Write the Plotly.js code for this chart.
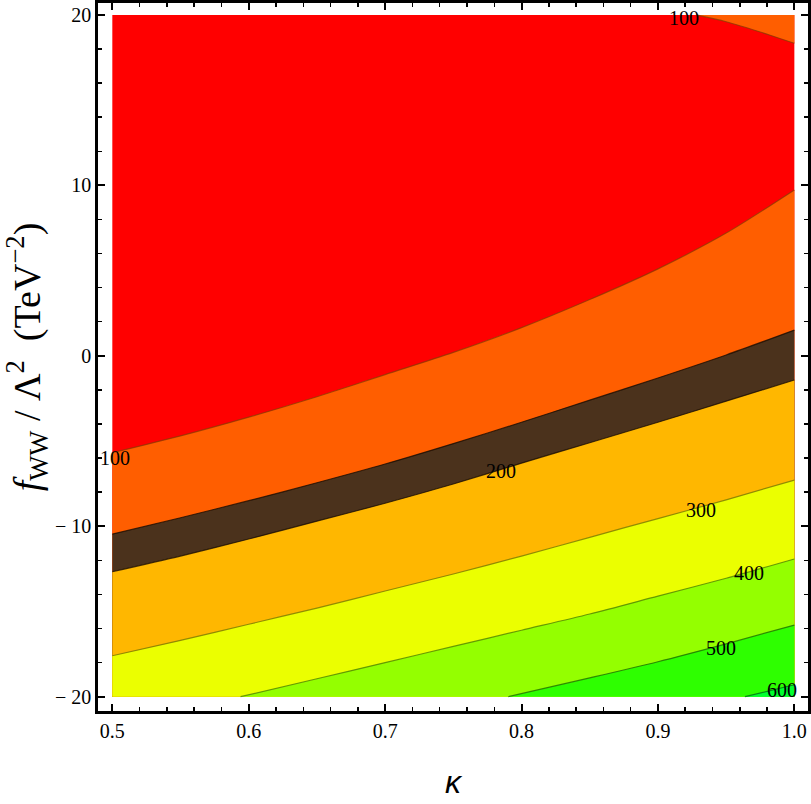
<!DOCTYPE html>
<html>
<head>
<meta charset="utf-8">
<script src="https://cdn.plot.ly/plotly-3.0.1.min.js"></script>
<style>
  html, body { margin: 0; padding: 0; background: #fff; }
  #chart { width: 811px; height: 804px; }
</style>
</head>
<body>
<div id="chart"></div>
<script>
const kappa = [0.5, 0.55, 0.6, 0.65, 0.7, 0.75, 0.8, 0.85, 0.9, 0.95, 1.0];

// contour lines (f_WW/Lambda^2 in TeV^-2 at each kappa)
const line100low = [-5.69, -4.7, -3.6, -2.4, -1.1, 0.2, 1.65, 3.3, 5.1, 7.2, 9.73];
const bandTop = [-10.46, -9.5, -8.5, -7.45, -6.35, -5.15, -3.9, -2.6, -1.3, 0.05, 1.51];
const line200 = [-12.67, -11.75, -10.75, -9.7, -8.65, -7.52, -6.3, -5.1, -3.9, -2.66, -1.42];
const line300 = [-17.6, -16.7, -15.75, -14.8, -13.8, -12.8, -11.75, -10.65, -9.55, -8.45, -7.29];

// lines that start on the top or bottom edge
const line100topX = [0.928, 0.95, 0.975, 1.0];
const line100topY = [20, 19.6, 19.0, 18.34];
const line400X = [0.594, 0.65, 0.7, 0.75, 0.8, 0.85, 0.9, 0.95, 1.0];
const line400Y = [-20, -18.95, -18.0, -17.05, -16.1, -15.15, -14.1, -13.05, -11.92];
const line500X = [0.7903, 0.85, 0.9, 0.95, 1.0];
const line500Y = [-20, -18.9, -17.95, -16.9, -15.8];
const line600X = [0.9638, 1.0];
const line600Y = [-20, -19.3];

// contour labels
const labelText = ['100', '100', '200', '300', '400', '500', '600'];
const labelX = [0.919, 0.502, 0.785, 0.9316, 0.9667, 0.9462, 0.991];
const labelY = [19.82, -6.0, -6.76, -9.05, -12.72, -17.12, -19.58];

const xMin = 0.5, xMax = 1.0, yMin = -20, yMax = 20;

// fill from a contour down to the bottom edge (or up to the top edge)
function band(xs, ys, edge, fillColor, lineColor) {
  const base = {
    x: [xs[0], xs[xs.length - 1]], y: [edge, edge],
    type: 'scatter', mode: 'lines', line: { width: 0 },
    hoverinfo: 'skip', showlegend: false
  };
  const curve = {
    x: xs, y: ys, type: 'scatter', mode: 'lines',
    line: { color: lineColor, width: 1.2, shape: 'spline', smoothing: 0.8 },
    fill: 'tonexty', fillcolor: fillColor,
    hoverinfo: 'skip', showlegend: false
  };
  return [base, curve];
}

const traces = [
  // red background
  {
    x: [xMin, xMax, xMax, xMin], y: [yMin, yMin, yMax, yMax],
    type: 'scatter', mode: 'none', fill: 'toself', fillcolor: '#ff0000',
    hoverinfo: 'skip', showlegend: false
  },
  ...band(line100topX, line100topY, yMax, '#ff5e00', 'rgba(130,60,0,0.7)'),
  ...band(kappa, line100low, yMin, '#ff5e00', 'rgba(130,60,0,0.7)'),
  ...band(kappa, bandTop, yMin, '#4b321c', 'rgba(20,10,0,0.75)'),
  ...band(kappa, line200, yMin, '#ffb700', 'rgba(20,10,0,0.75)'),
  ...band(kappa, line300, yMin, '#ebff00', 'rgba(120,120,0,0.8)'),
  ...band(line400X, line400Y, yMin, '#94ff00', 'rgba(80,130,0,0.8)'),
  ...band(line500X, line500Y, yMin, '#2eff00', 'rgba(30,110,0,0.8)'),
  ...band(line600X, line600Y, yMin, '#00ff30', 'rgba(0,110,20,0.8)')
];

const annotations = labelText.map((t, i) => ({
  x: labelX[i], y: labelY[i], text: t, showarrow: false,
  font: { family: 'Liberation Serif, serif', size: 20, color: '#000' }
}));

const axisCommon = {
  showline: true, linecolor: '#000', linewidth: 2.7, mirror: 'allticks',
  ticks: 'inside', ticklen: 7, tickwidth: 2, tickcolor: '#000',
  showgrid: false, zeroline: false,
  tickfont: { family: 'Liberation Serif, serif', size: 20, color: '#000' }
};

const layout = {
  width: 811, height: 804,
  margin: { l: 98, r: 3, t: 3, b: 93 },
  paper_bgcolor: '#fff', plot_bgcolor: '#fff',
  showlegend: false,
  xaxis: Object.assign({}, axisCommon, {
    range: [0.4895, 1.01],
    tickvals: [0.5, 0.6, 0.7, 0.8, 0.9, 1.0],
    ticktext: ['0.5', '0.6', '0.7', '0.8', '0.9', '1.0'],
    minor: { ticks: 'inside', dtick: 0.02, tick0: 0.5, ticklen: 4, tickwidth: 1.5, tickcolor: '#000' },
    title: {
      text: '<i>κ</i>', standoff: 30,
      font: { family: 'Liberation Sans, sans-serif', size: 32, color: '#000' }
    }
  }),
  yaxis: Object.assign({}, axisCommon, {
    range: [-20.84, 20.70],
    tickvals: [-20, -10, 0, 10, 20],
    ticktext: ['\u2212 20', '\u2212 10', '0', '10', '20'],
    minor: { ticks: 'inside', dtick: 2, tick0: 0, ticklen: 4, tickwidth: 1.5, tickcolor: '#000' },
    title: {
      text: '<i>f</i><sub>WW</sub> / Λ<sup>2</sup>  (TeV<sup>\u22122</sup>)', standoff: 4,
      font: { family: 'Liberation Serif, serif', size: 38, color: '#000' }
    }
  }),
  annotations: annotations
};

Plotly.newPlot('chart', traces, layout, { displayModeBar: false, staticPlot: true });
</script>
</body>
</html>
